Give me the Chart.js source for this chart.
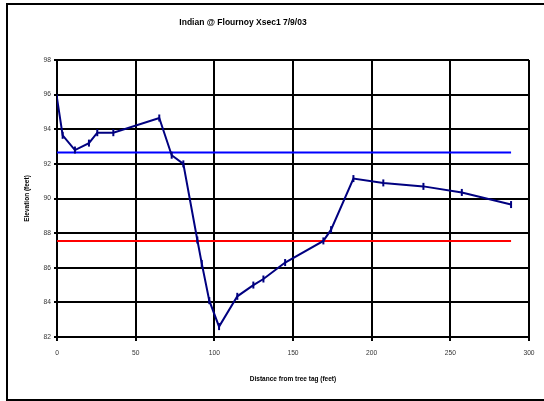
<!DOCTYPE html>
<html>
<head>
<meta charset="utf-8">
<script src="https://cdn.jsdelivr.net/npm/chart.js@4/dist/chart.umd.min.js"></script>
<style>
  html, body { margin: 0; padding: 0; background: #fff; }
  #wrap { position: relative; width: 544px; height: 401px; }
</style>
</head>
<body>
<div id="wrap"><canvas id="c" width="544" height="401"></canvas></div>
<script>
// cross-section profile
const distance = [0, 3.6, 11.4, 20.3, 25.6, 35.8, 65, 72.9, 80.3, 89.2, 92, 96.8, 103, 114.6, 124.8, 131.2, 145, 169.3, 174.2, 188.4, 207.4, 232.9, 257.3, 288.6]
const elevation = [95.8, 93.65, 92.8, 93.2, 93.8, 93.8, 94.65, 92.5, 92.0, 87.6, 86.25, 84.1, 82.6, 84.35, 85.0, 85.35, 86.3, 87.55, 88.2, 91.15, 90.9, 90.7, 90.35, 89.65]
const blueLevel = 92.65
const redLevel = 87.55
const lineEnds = [0, 288.6]
const xTicks = [0, 50, 100, 150, 200, 250, 300]
const yTicks = [82, 84, 86, 88, 90, 92, 94, 96, 98]

const FONT = 'Liberation Sans, Arial, sans-serif'

const frame = {
  id: 'frame',
  afterDraw(chart) {
    const c = chart.ctx
    c.save()
    c.strokeStyle = '#000'
    c.lineWidth = 2
    c.strokeRect(7, 4, 545, 396)
    c.fillStyle = '#000'
    c.font = 'bold 8.5px ' + FONT
    c.textAlign = 'center'
    c.textBaseline = 'middle'
    c.fillText('Indian @ Flournoy Xsec1 7/9/03', 243, 23)
    c.restore()
  }
}

const flat = (lvl) => lineEnds.map(x => ({ x, y: lvl }))

new Chart(document.getElementById('c'), {
  type: 'scatter',
  data: {
    datasets: [
      {
        data: distance.map((x, i) => ({ x, y: elevation[i] })),
        showLine: true,
        borderColor: '#000080',
        backgroundColor: '#000080',
        borderWidth: 2,
        pointStyle: 'line',
        rotation: 90,
        pointRadius: 3.5,
        pointBorderWidth: 2,
        order: 0
      },
      {
        data: flat(blueLevel),
        showLine: true,
        borderColor: '#0000ff',
        borderWidth: 2,
        pointRadius: 0,
        order: 1
      },
      {
        data: flat(redLevel),
        showLine: true,
        borderColor: '#ff0000',
        borderWidth: 2,
        pointRadius: 0,
        order: 1
      }
    ]
  },
  options: {
    responsive: false,
    animation: false,
    events: [],
    layout: { padding: { left: 19, right: 15, top: 60, bottom: 14 } },
    plugins: { legend: { display: false }, tooltip: { enabled: false } },
    scales: {
      x: {
        type: 'linear',
        min: 0,
        max: 300,
        afterBuildTicks: s => { s.ticks = xTicks.map(v => ({ value: v })) },
        afterFit: s => { s.height = 50 },
        grid: { color: '#000', lineWidth: 2, tickLength: 4 },
        border: { color: '#000', width: 2 },
        ticks: { color: '#333', font: { family: FONT, size: 6.7 }, padding: 8, maxRotation: 0 },
        title: { display: true, text: 'Distance from tree tag (feet)', color: '#000', font: { family: FONT, size: 6.5, weight: 'bold' }, padding: { top: 10 } }
      },
      y: {
        min: 82,
        max: 98,
        afterBuildTicks: s => { s.ticks = yTicks.map(v => ({ value: v })) },
        afterFit: s => { s.width = 38 },
        grid: { color: '#000', lineWidth: 2, tickLength: 3 },
        border: { color: '#000', width: 2 },
        ticks: { color: '#333', font: { family: FONT, size: 6.7 }, padding: 3 },
        title: { display: true, text: 'Elevation (feet)', color: '#000', font: { family: FONT, size: 6.5, weight: 'bold' }, padding: { bottom: 8 } }
      }
    }
  },
  plugins: [frame]
})
</script>
</body>
</html>
